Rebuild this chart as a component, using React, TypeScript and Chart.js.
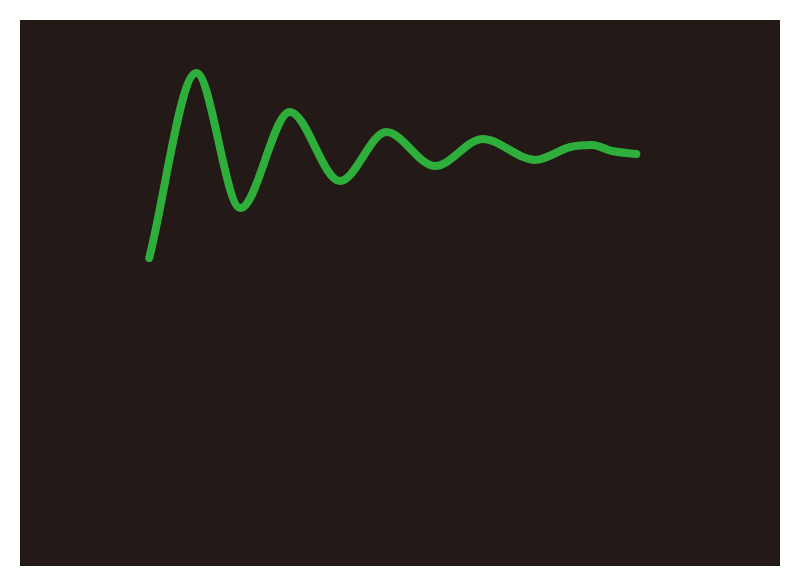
import { useEffect, useRef } from 'react';
import { Chart, ChartConfiguration, registerables } from 'chart.js';

Chart.register(...registerables);

// damped response, time (s) vs amplitude
const times = [1.70, 2.32, 2.90, 3.55, 4.21, 4.82, 5.46, 6.09, 6.78, 7.24, 7.53, 7.79, 8.11];
const amplitude = [3.08, 4.93, 3.58, 4.54, 3.85, 4.34, 4.00, 4.27, 4.06, 4.19, 4.21, 4.15, 4.12];

const BG = '#231a17';
const LINE = '#2eae3a';

const App = () => {
  const canvasRef = useRef<HTMLCanvasElement>(null);
  const chartRef = useRef<Chart | null>(null);

  useEffect(() => {
    if (!canvasRef.current) return;
    if (chartRef.current) chartRef.current.destroy();

    const ctx = canvasRef.current.getContext('2d');
    if (!ctx) return;

    const config: ChartConfiguration = {
      type: 'line',
      data: {
        datasets: [
          {
            label: 'response',
            data: times.map((t, i) => ({ x: t, y: amplitude[i] })),
            borderColor: LINE,
            borderWidth: 8,
            borderCapStyle: 'round',
            borderJoinStyle: 'round',
            cubicInterpolationMode: 'monotone',
            pointRadius: 0,
            fill: false,
          },
        ],
      },
      options: {
        responsive: true,
        maintainAspectRatio: false,
        animation: false,
        layout: { padding: 0 },
        plugins: {
          legend: { display: false },
          tooltip: { enabled: false },
        },
        scales: {
          x: { type: 'linear', min: 0, max: 10, display: false },
          y: { min: 0, max: 5.46, display: false },
        },
      },
    };

    chartRef.current = new Chart(ctx, config);

    return () => {
      if (chartRef.current) {
        chartRef.current.destroy();
        chartRef.current = null;
      }
    };
  }, []);

  return (
    <div style={{ position: 'absolute', left: 0, top: 0, width: 800, height: 588, background: '#ffffff' }}>
      <div style={{ position: 'absolute', left: 20, top: 20, width: 760, height: 546, background: BG }}>
        <canvas ref={canvasRef}></canvas>
      </div>
    </div>
  );
};

export default App;
